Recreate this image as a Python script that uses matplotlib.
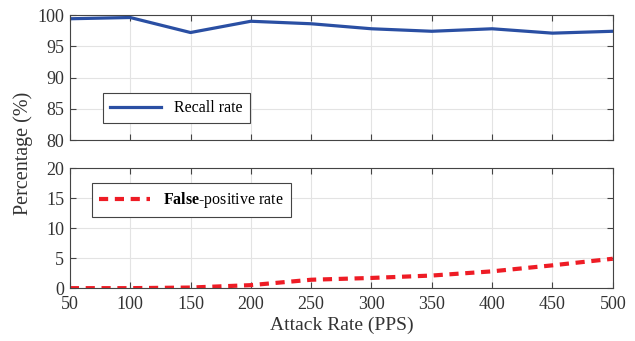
import numpy as np
import matplotlib
matplotlib.use("Agg")
import matplotlib.pyplot as plt

plt.rcParams["font.family"] = ["Liberation Serif", "DejaVu Serif"]
plt.rcParams["mathtext.fontset"] = "custom"
plt.rcParams["mathtext.rm"] = "Liberation Serif"
plt.rcParams["mathtext.bf"] = "Liberation Serif:bold"

# ── 数据 ──
attack_rate = [50, 100, 150, 200, 250, 300, 350, 400, 450, 500]
recall_rate = [99.4, 99.6, 97.2, 99.0, 98.6, 97.8, 97.4, 97.8, 97.1, 97.4]
false_pos_rate = [0.0, 0.0, 0.1, 0.5, 1.4, 1.7, 2.1, 2.8, 3.8, 4.9]
x_ticks = [50, 100, 150, 200, 250, 300, 350, 400, 450, 500]
top_yticks = [80, 85, 90, 95, 100]
bot_yticks = [0, 5, 10, 15, 20]

text_c = "#333333"
fig = plt.figure(figsize=(6.35, 3.41), dpi=100)
ax1 = fig.add_axes([0.110, 0.589, 0.855, 0.367])
ax2 = fig.add_axes([0.110, 0.155, 0.855, 0.352])


def style(ax):
    ax.set_xlim(50, 500)
    ax.set_xticks(x_ticks)
    ax.grid(color="#e3e3e3", linewidth=0.8)
    ax.set_axisbelow(True)
    ax.tick_params(direction="in", top=True, right=True, length=4,
                   color="#444444", labelcolor=text_c, labelsize=13, pad=4)
    ax.tick_params(axis="x", pad=6)
    for s in ax.spines.values():
        s.set_color("#444444")
        s.set_linewidth(0.8)


# ── 上图：召回率 ──
ax1.plot(attack_rate, recall_rate, color="#2a4fa3", linewidth=2.3, label="Recall rate")
ax1.set_ylim(80, 100)
ax1.set_yticks(top_yticks)
style(ax1)
ax1.tick_params(labelbottom=False)
leg1 = ax1.legend(loc="upper left", bbox_to_anchor=(0.061, 0.376), fontsize=11.5,
                  fancybox=False, framealpha=1, edgecolor="#444444",
                  handlelength=3.2, borderpad=0.45, borderaxespad=0)
leg1.get_frame().set_linewidth(0.8)

# ── 下图：误报率 ──
ax2.plot(attack_rate, false_pos_rate, color="#ee1c25", linewidth=3.0,
         linestyle=(0, (2.2, 1.6)), label=r"$\mathbf{False}$-positive rate")
ax2.set_ylim(0, 20)
ax2.set_yticks(bot_yticks)
style(ax2)
leg2 = ax2.legend(loc="upper left", bbox_to_anchor=(0.04, 0.875), fontsize=11.5,
                  fancybox=False, framealpha=1, edgecolor="#444444",
                  handlelength=3.2, borderpad=0.45, borderaxespad=0)
leg2.get_frame().set_linewidth(0.8)
ax2.set_xlabel("Attack Rate (PPS)", fontsize=14, color=text_c, labelpad=2)

fig.text(0.037, 0.55, "Percentage (%)", rotation=90, fontsize=14.5, color=text_c,
         ha="center", va="center")

plt.savefig("out.png", dpi=100)
plt.close()
